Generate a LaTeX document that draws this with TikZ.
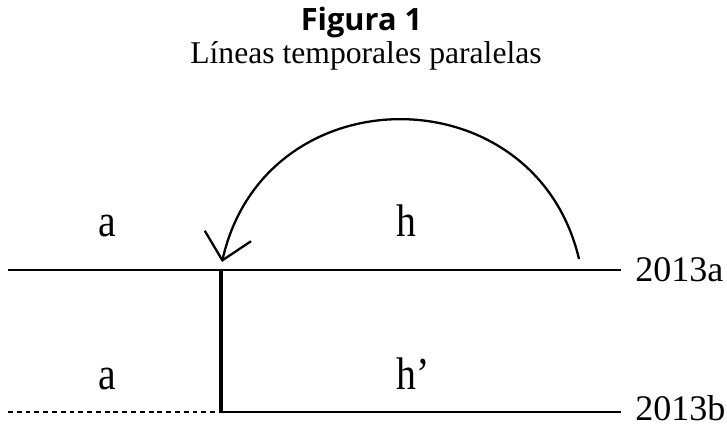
\documentclass[tikz,border=0pt]{standalone}
\usepackage{fontspec}
\setmainfont{Liberation Serif}
\newfontfamily\titlefont{Open Sans}
\newfontfamily\labelfont[FakeStretch=0.87]{Liberation Serif}
\usepackage{tikz}
\usetikzlibrary{arrows.meta, positioning}

\begin{document}
\begin{tikzpicture}[
    every node/.style={inner sep=0pt},
    timeline/.style={line width=1.1pt},
    pastline/.style={line width=1.1pt, dash pattern=on 2.8pt off 2.2pt},
    jumpline/.style={line width=2.4pt},
    jumparrow/.style={line width=1.3pt, -{Straight Barb[length=5mm, width=9.5mm]}},
    yearlabel/.style={font=\fontsize{20.5}{24}\selectfont, anchor=west},
    seglabel/.style={font=\labelfont\fontsize{26}{30}\selectfont, anchor=base west},
]
\useasboundingbox (0,0) rectangle (14.54,8.5);
% caption
\node[font=\titlefont\bfseries\fontsize{17.5}{20}\selectfont, anchor=base] (fig) at (7.23,7.89) {Figura 1};
\node[font=\fontsize{18}{22}\selectfont, anchor=base] (caption) at (7.32,7.22) {Líneas temporales paralelas};
% time lines
\coordinate (aStart) at (0.16,3.10);
\coordinate (split) at (4.42,3.10);
\coordinate (aEnd) at (12.42,3.10);
\coordinate (bStart) at (0.16,0.26);
\coordinate (bSplit) at (4.42,0.26);
\coordinate (bEnd) at (12.42,0.26);
\node[yearlabel] (yearA) at (12.70,3.10) {2013a};
\node[yearlabel] (yearB) at (12.70,0.33) {2013b};
\draw[timeline] (aStart) -- (aEnd);
\draw[pastline] (bStart) -- (bSplit);
\draw[timeline] (bSplit) -- (bEnd);
\draw[jumpline] (split) -- ([yshift=-0.02cm]bSplit);
% labels
\node[seglabel] (aTop) at (1.96,3.76) {a};
\node[seglabel] (hTop) at (7.92,3.76) {h};
\node[seglabel] (aBot) at (1.96,0.70) {a};
\node[seglabel] (hBot) at (7.92,0.70) {h’};
% travel back
\coordinate (jumpFrom) at (11.58,3.32);
\coordinate (jumpTo) at (4.44,3.26);
\draw[jumparrow] (jumpFrom) .. controls (10.7,7.05) and (5.3,7.05) .. (jumpTo);
\end{tikzpicture}
\end{document}
